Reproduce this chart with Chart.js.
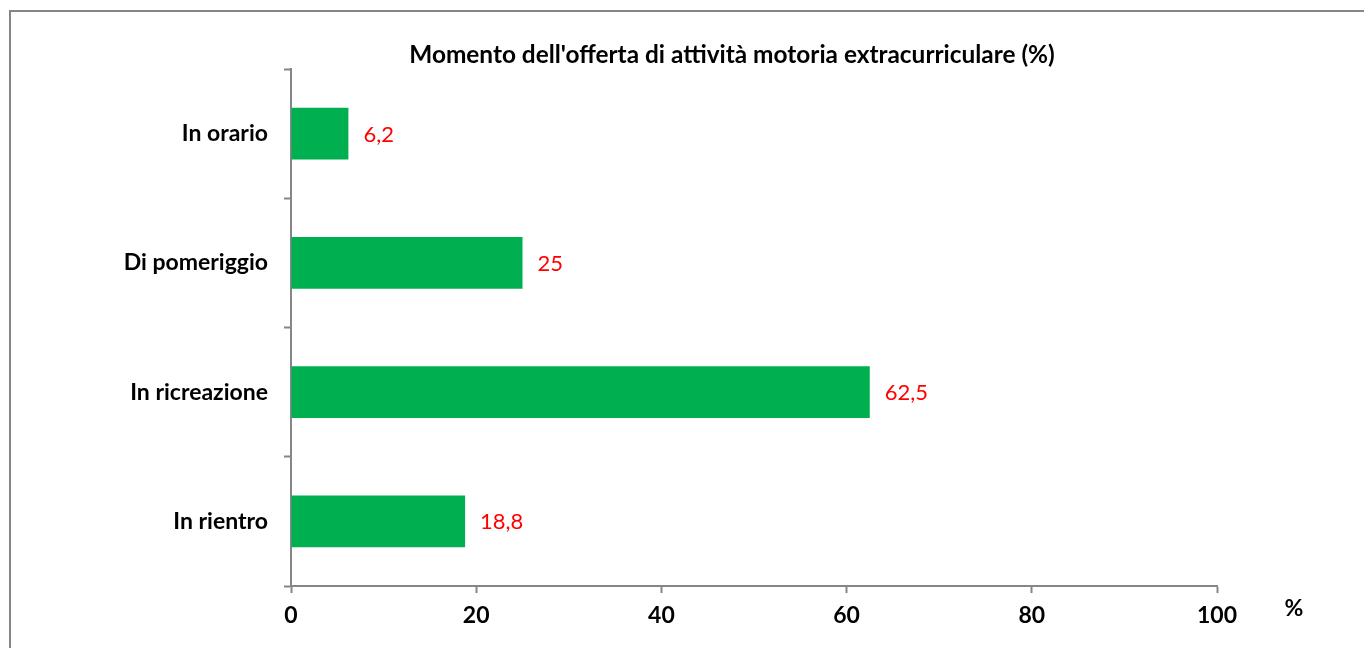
<!DOCTYPE html>
<html>
<head>
<meta charset="utf-8">
<style>
  html, body { margin: 0; padding: 0; background: #fff; }
  #wrap { width: 1364px; height: 648px; }
</style>
<script src="https://cdn.jsdelivr.net/npm/chart.js@4.4.1/dist/chart.umd.min.js"></script>
</head>
<body>
<div id="wrap"><canvas id="bar-chart" width="1364" height="648"></canvas></div>
<script>
var chartTitle = "Momento dell'offerta di attività motoria extracurriculare (%)";
var categories = ["In orario", "Di pomeriggio", "In ricreazione", "In rientro"]; // y labels
var values = [6.2, 25, 62.5, 18.8]; // bar lengths (%)
var xTicks = [0, 20, 40, 60, 80, 100];
var axisUnit = "%";

var axisGrey = "#868686";
var barGreen = "#00B050";
var fontName = "Lato, Carlito, Calibri, sans-serif";

// frame, title, unit label and value labels
var decorations = {
    id: "decorations",
    beforeDraw: function (chart) {
        var ctx = chart.ctx;
        ctx.save();
        ctx.fillStyle = "#fff";
        ctx.fillRect(0, 0, chart.width, chart.height);
        ctx.strokeStyle = axisGrey;
        ctx.lineWidth = 2;
        ctx.strokeRect(10, 11, chart.width + 20, chart.height + 20);
        ctx.restore();
    },
    afterDatasetsDraw: function (chart) {
        var ctx = chart.ctx;
        var meta = chart.getDatasetMeta(0);
        ctx.save();
        ctx.font = "22px " + fontName;
        ctx.fillStyle = "#FF0000";
        ctx.textAlign = "left";
        ctx.textBaseline = "middle";
        meta.data.forEach(function (bar, i) {
            ctx.fillText(String(values[i]).replace(".", ","), bar.x + 15, bar.y + 1);
        });

        ctx.fillStyle = "#000";
        ctx.font = "bold 24.4px " + fontName;
        ctx.textAlign = "center";
        ctx.fillText(chartTitle, 732, 55);

        var xs = chart.scales.x;
        ctx.font = "bold 23px " + fontName;
        ctx.fillText(axisUnit, xs.right + 77, xs.top + 23);
        ctx.restore();
    }
};

var config = {
    type: "bar",
    data: {
        labels: categories,
        datasets: [{
            data: values,
            backgroundColor: barGreen,
            borderWidth: 0,
            barPercentage: 0.4,
            categoryPercentage: 1.0
        }]
    },
    options: {
        indexAxis: "y",
        responsive: false,
        animation: false,
        layout: {
            padding: { top: 69, right: 147, bottom: 0, left: 0 }
        },
        plugins: {
            legend: { display: false },
            title: { display: false },
            tooltip: { enabled: false }
        },
        scales: {
            x: {
                min: 0,
                max: 100,
                afterBuildTicks: function (scale) {
                    scale.ticks = xTicks.map(function (v) { return { value: v }; });
                },
                afterFit: function (scale) { scale.height = 62; },
                border: { display: true, color: axisGrey, width: 2 },
                grid: {
                    drawOnChartArea: false,
                    drawTicks: true,
                    tickLength: 7,
                    tickWidth: 2,
                    tickColor: axisGrey
                },
                ticks: {
                    color: "#000",
                    padding: 9,
                    font: { family: fontName, size: 23, weight: "bold" }
                }
            },
            y: {
                afterFit: function (scale) { scale.width = 291; },
                border: { display: true, color: axisGrey, width: 2 },
                grid: {
                    offset: true,
                    drawOnChartArea: false,
                    drawTicks: true,
                    tickLength: 7,
                    tickWidth: 2,
                    tickColor: axisGrey
                },
                ticks: {
                    color: "#000",
                    padding: 16,
                    font: { family: fontName, size: 23, weight: "bold" }
                }
            }
        }
    },
    plugins: [decorations]
};

var barChart = new Chart(document.getElementById("bar-chart"), config);
</script>
</body>
</html>
